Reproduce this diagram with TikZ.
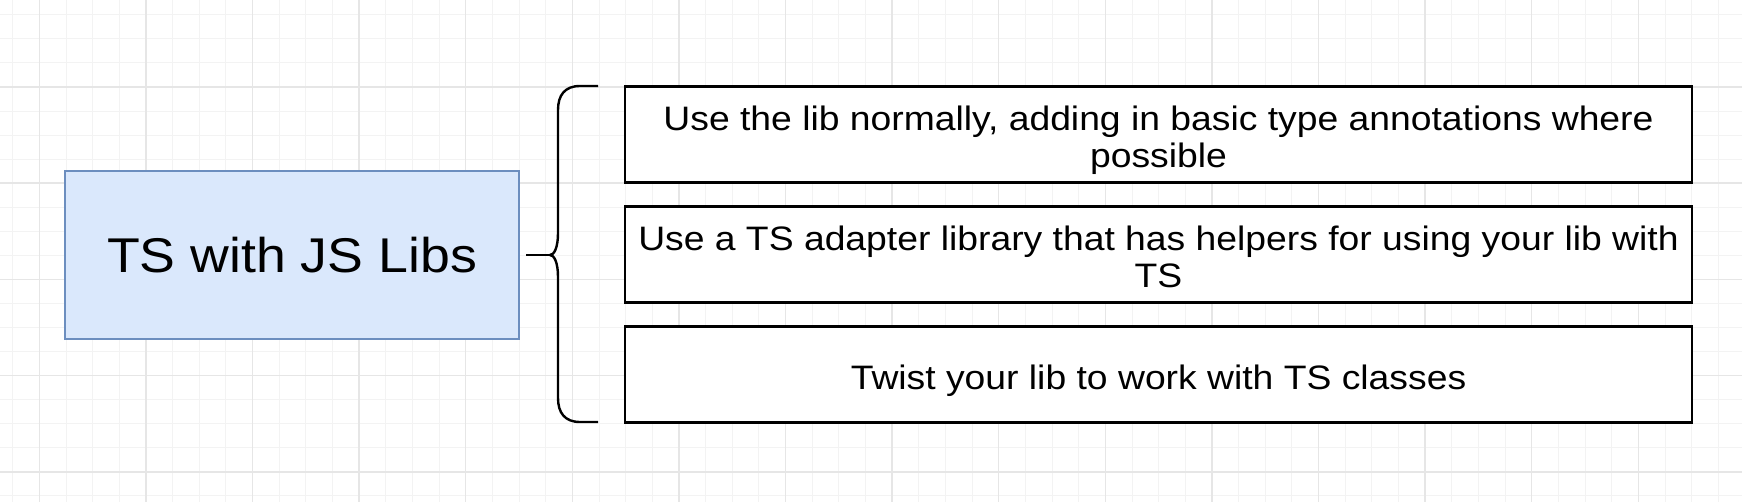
\documentclass[tikz,border=0pt]{standalone}
\usepackage{fontspec}
\setmainfont{Liberation Sans}[FakeStretch=1.1]
\usepackage{tikz}
\usepackage{xcolor}
\definecolor{gridminor}{HTML}{F3F3F3}
\definecolor{gridmajor}{HTML}{E6E6E6}
\definecolor{blueline}{HTML}{6C8EBF}
\definecolor{bluefill}{HTML}{DAE8FC}

\begin{document}
\begin{tikzpicture}[x=0.5pt,y=-0.5pt]
\tikzstyle{gridthin} =[line width=0.5pt, color=gridminor]
\tikzstyle{gridbold} =[line width=0.75pt, color=gridmajor]
\tikzstyle{topic} =[rectangle, draw=blueline, fill=bluefill, line width=1.3pt, inner sep=0pt, minimum width=227pt, minimum height=84pt, font=\fontsize{24.4}{29}\selectfont]
\tikzstyle{item} =[rectangle, draw=black, fill=white, line width=1.3pt, inner sep=0pt, minimum width=533.5pt, minimum height=47.8pt, align=center, text height=15.5pt, text depth=0pt, font=\fontsize{16.95}{18.3}\selectfont]
\tikzstyle{itemtwo} =[item, text height=33pt]
\tikzstyle{brace} =[line width=1.2pt, line join=round]

\useasboundingbox (0,0) rectangle (1742,502);
\fill[white] (0,0) rectangle (1742,502);

\foreach \i in {0,...,65}{
  \pgfmathsetmacro\gx{12.7+26.65*\i}
  \draw[gridthin] (\gx,0) -- (\gx,502);
}
\foreach \j in {0,...,20}{
  \pgfmathsetmacro\gy{14.9+24.05*\j}
  \draw[gridthin] (0,\gy) -- (1742,\gy);
}
\foreach \i in {0,...,16}{
  \pgfmathsetmacro\gx{39.3+106.6*\i}
  \draw[gridbold] (\gx,0) -- (\gx,502);
}
\foreach \j in {0,...,5}{
  \pgfmathsetmacro\gy{87+96.2*\j}
  \draw[gridbold] (0,\gy) -- (1742,\gy);
}

\node[topic](t) at (292,255){TS with JS Libs};
\node[itemtwo](b1) at (1158.5,134.5){Use the lib normally, adding in basic type annotations where\\possible};
\node[itemtwo](b2) at (1158.5,254.5){Use a TS adapter library that has helpers for using your lib with\\TS};
\node[item](b3) at (1158.5,374.5){Twist your lib to work with TS classes};

\coordinate (tip) at (550,255);
\coordinate (top) at (598,86);
\coordinate (bot) at (598,422);

\draw[brace] (top) -- (580,86) .. controls (565,86) and (558,95) .. (558,110) -- (558,233)
  .. controls (558,248) and (554,255) .. (tip)
  .. controls (554,255) and (558,262) .. (558,277) -- (558,398)
  .. controls (558,413) and (565,422) .. (580,422) -- (bot);
\draw[brace, shorten <=3pt] (t) -- (tip);
\end{tikzpicture}
\end{document}
